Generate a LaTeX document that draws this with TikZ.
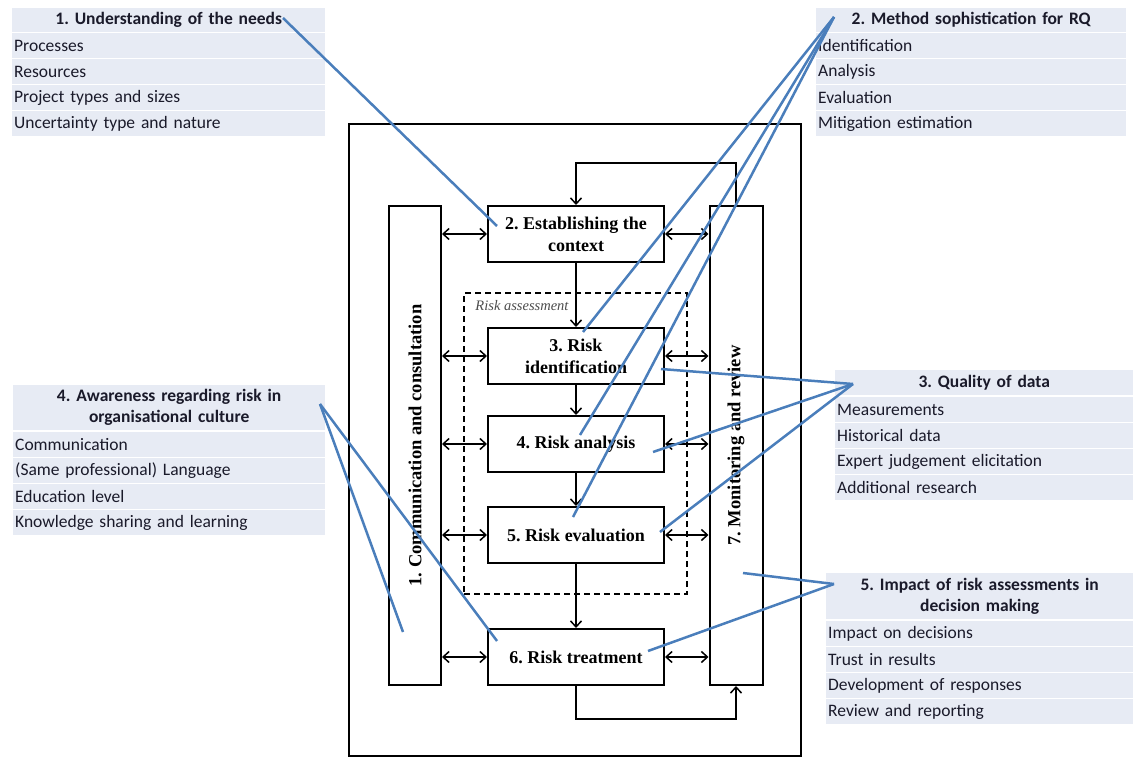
\documentclass[tikz,border=0pt]{standalone}
\usepackage{fontspec}
\setmainfont{Liberation Serif}
\newfontfamily\calib{Carlito}
\usetikzlibrary{arrows.meta}
\definecolor{panelfill}{HTML}{E7EBF4}
\definecolor{linkblue}{HTML}{4A7EBB}
\definecolor{ptext}{HTML}{1A1A2A}
\frenchspacing
\begin{document}
\begin{tikzpicture}[x=1pt,y=-1pt,
  ptitle/.style={fill=panelfill, inner xsep=2pt, inner ysep=0pt, align=center, font=\calib\fontsize{17.5}{21}\selectfont\bfseries, text=ptext, anchor=north west},
  pitem/.style={fill=panelfill, inner xsep=2pt, inner ysep=0pt, minimum height=25pt, align=left, font=\calib\fontsize{17.5}{21}\selectfont, text=ptext, anchor=north west},
  procbox/.style={draw, fill=white, line width=2pt, minimum width=176pt, minimum height=56pt, inner sep=0pt, align=center, font=\fontsize{18}{22}\selectfont\bfseries},
  sidebar/.style={draw, line width=2pt, minimum height=479pt, inner sep=0pt},
  vtext/.style={rotate=90, font=\fontsize{18.5}{22}\selectfont\bfseries},
  arr/.style={line width=1.5pt, -{Straight Barb[length=6pt,width=11pt]}},
  dbl/.style={line width=1.5pt, {Straight Barb[length=6pt,width=11pt]}-{Straight Barb[length=6pt,width=11pt]}},
  link/.style={draw=linkblue, line width=2.5pt}
]
\useasboundingbox (0,0) rectangle (1133,757);

% Panel 1
\node[ptitle, text width=309pt, minimum height=24pt] (t1) at (12,8) {1. Understanding of the needs};
\node[pitem, text width=309pt] (t1a) at (12,33) {Processes};
\node[pitem, text width=309pt] (t1b) at (12,59) {Resources};
\node[pitem, text width=309pt] (t1c) at (12,85) {Project types and sizes};
\node[pitem, text width=309pt] (t1d) at (12,111) {Uncertainty type and nature};

% Panel 2
\node[ptitle, text width=306pt, minimum height=24pt] (t2) at (816,8) {2. Method sophistication for RQ};
\node[pitem, text width=306pt] (t2a) at (816,33) {Identification};
\node[pitem, text width=306pt] (t2b) at (816,59) {Analysis};
\node[pitem, text width=306pt] (t2c) at (816,85) {Evaluation};
\node[pitem, text width=306pt] (t2d) at (816,111) {Mitigation estimation};

% Panel 3
\node[ptitle, text width=294pt, minimum height=25pt] (t3) at (835,370) {3. Quality of data};
\node[pitem, text width=294pt] (t3a) at (835,397) {Measurements};
\node[pitem, text width=294pt] (t3b) at (835,423) {Historical data};
\node[pitem, text width=294pt] (t3c) at (835,449) {Expert judgement elicitation};
\node[pitem, text width=294pt] (t3d) at (835,475) {Additional research};

% Panel 4
\node[ptitle, text width=308pt, minimum height=45pt] (t4) at (13,385) {4. Awareness regarding risk in\\organisational culture};
\node[pitem, text width=308pt] (t4a) at (13,432) {Communication};
\node[pitem, text width=308pt] (t4b) at (13,458) {(Same professional) Language};
\node[pitem, text width=308pt] (t4c) at (13,484) {Education level};
\node[pitem, text width=308pt] (t4d) at (13,510) {Knowledge sharing and learning};

% Panel 5
\node[ptitle, text width=303pt, minimum height=46pt] (t5) at (826,573) {5. Impact of risk assessments in\\decision making};
\node[pitem, text width=303pt] (t5a) at (826,621) {Impact on decisions};
\node[pitem, text width=303pt] (t5b) at (826,647) {Trust in results};
\node[pitem, text width=303pt] (t5c) at (826,673) {Development of responses};
\node[pitem, text width=303pt] (t5d) at (826,699) {Review and reporting};

% Central diagram
\node[draw, line width=2pt, minimum width=452pt, minimum height=632pt, inner sep=0pt] (frame) at (575,440) {};
\node[draw, dashed, dash pattern=on 6pt off 4pt, line width=1.5pt, minimum width=223pt, minimum height=301pt, inner sep=0pt] (ra) at (575.5,443.5) {};
\node[font=\itshape\fontsize{14.5}{17}\selectfont, text=black!70, inner sep=0pt] (ralbl) at (522,306) {Risk assessment};

\node[sidebar, minimum width=52pt] (comm) at (415,445.5) {};
\node[vtext] (commtxt) at (comm.center) {1. Communication and consultation};
\node[sidebar, minimum width=53pt] (mon) at (736,445.5) {};
\node[vtext] (montxt) at (mon.center) {7. Monitoring and review};

\node[procbox] (b2) at (576,234) {2. Establishing the\\context};
\node[procbox] (b3) at (576,356) {3. Risk\\identification};
\node[procbox] (b4) at (576,444) {4. Risk analysis};
\node[procbox] (b5) at (576,535) {5. Risk evaluation};
\node[procbox] (b6) at (576,657) {6. Risk treatment};

\draw[arr] (b2) -- (b3);
\draw[arr] (b3) -- (b4);
\draw[arr] (b4) -- (b5);
\draw[arr] (b5) -- (b6);
\draw[arr] (mon.north) -- ++(0,-42) -| (b2.north);
\draw[arr] (b6.south) -- ++(0,33) -| (mon.south);
\foreach \b in {b2,b3,b4,b5,b6} {
  \draw[dbl] (comm.east |- \b.west) -- (\b.west);
  \draw[dbl] (\b.east) -- (mon.west |- \b.east);
}

% Blue links
\coordinate (l1s) at (283,18);
\coordinate (l1e) at (497,226);
\coordinate (l2s) at (834,17);
\coordinate (l2a) at (583,332);
\coordinate (l2b) at (580,435);
\coordinate (l2c) at (573,517);
\coordinate (l3s) at (853,384);
\coordinate (l3a) at (661,369);
\coordinate (l3b) at (653,452);
\coordinate (l3c) at (660,532);
\coordinate (l4s) at (320,404);
\coordinate (l4a) at (403,632);
\coordinate (l4b) at (497,641);
\coordinate (l5s) at (834,584);
\coordinate (l5a) at (743,573);
\coordinate (l5b) at (648,651);

\draw[link] (l1s) -- (l1e);
\draw[link] (l2s) -- (l2a);
\draw[link] (l2s) -- (l2b);
\draw[link] (l2s) -- (l2c);
\draw[link] (l3s) -- (l3a);
\draw[link] (l3s) -- (l3b);
\draw[link] (l3s) -- (l3c);
\draw[link] (l4s) -- (l4a);
\draw[link] (l4s) -- (l4b);
\draw[link] (l5s) -- (l5a);
\draw[link] (l5s) -- (l5b);
\end{tikzpicture}
\end{document}
